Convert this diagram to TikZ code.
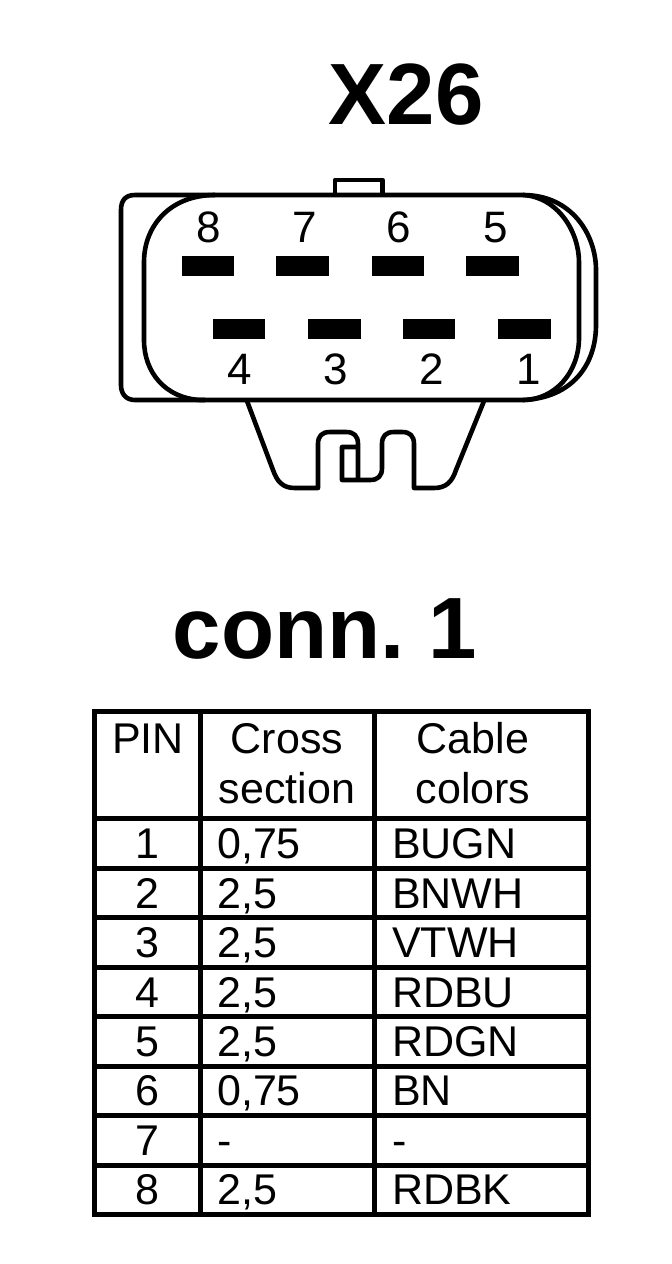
\documentclass[tikz,border=0pt]{standalone}
\usepackage{fontspec}
\setmainfont{Liberation Sans}
\tikzset{
  x=1pt,y=-1pt,
  body/.style={line width=4.6pt,line join=round,draw=black},
  grid/.style={line width=5pt,draw=black,line cap=rect},
  pinbar/.style={fill=black,draw=none},
  pinno/.style={inner sep=0pt,anchor=base,font=\fontsize{44}{46}\selectfont},
  big/.style={inner sep=0pt,anchor=base,font=\fontsize{87}{90}\selectfont\bfseries},
  cell/.style={inner sep=0pt,anchor=base,font=\fontsize{43}{45}\selectfont},
  lcell/.style={cell,anchor=base west}
}
\begin{document}
\begin{tikzpicture}
\useasboundingbox (0,0) rectangle (672,1264);
\node[big] (title) at (406,124) {X26};
% tab
\draw[body] (335,193) -- (335,180) -- (382.5,180) -- (382.5,193);
% outer shell
\draw[body] (215,195) -- (135,195) .. controls (125,195) and (121,201) .. (121,210) -- (121,385) .. controls (121,394) and (126,400) .. (135,400) -- (205,400);
\draw[body] (523,195) .. controls (572,195) and (596,235) .. (596,270) -- (596,325) .. controls (596,365) and (572,398) .. (523,400);
% inner face
\draw[body] (215,195) -- (523,195) .. controls (558,197) and (579,232) .. (579,262) -- (579,338) .. controls (579,372) and (555,400) .. (523,400) -- (200,400) .. controls (165,398) and (144,372) .. (144,340) -- (144,262) .. controls (144,226) and (170,195) .. (215,195);
% pins
\foreach \xa/\xb in {182/234,276/329,372/424,466/519}
  \fill[pinbar] (\xa,256) rectangle (\xb,276);
\foreach \xa/\xb in {213/265,308/361,403/455,498/551}
  \fill[pinbar] (\xa,319) rectangle (\xb,339);
\node[pinno] (p8) at (209,242) {8};
\node[pinno] (p7) at (305,242) {7};
\node[pinno] (p6) at (399,242) {6};
\node[pinno] (p5) at (496,242) {5};
\node[pinno] (p4) at (240,384) {4};
\node[pinno] (p3) at (336,384) {3};
\node[pinno] (p2) at (432,384) {2};
\node[pinno] (p1) at (529,384) {1};
% clip
\draw[body] (247,401) -- (273,470) .. controls (277,481) and (282,488) .. (295,488) -- (318,488) -- (318,444) .. controls (318,436) and (322,432) .. (330,432) -- (346,432) .. controls (354,432) and (358,436) .. (358,444) -- (358,480);
\draw[body] (358,447) -- (342,447) -- (342,480) -- (370,480) .. controls (378,480) and (382,476) .. (382,468) -- (382,444) .. controls (382,436) and (386,432) .. (394,432) -- (402,432) .. controls (410,432) and (414,436) .. (414,444) -- (414,488) -- (434,488) .. controls (446,488) and (452,482) .. (456,470) -- (484,401);
\node[big] (conn) at (325,658) {conn.\kern-8pt{} 1};
% table
\draw[grid] (94.5,711) rectangle (588.5,1214);
\draw[grid] (200,711) -- (200,1214);
\draw[grid] (374,711) -- (374,1214);
\foreach \y in {818,868,917,967,1016,1066,1115,1165}
  \draw[grid] (94.5,\y) -- (588.5,\y);
\node[cell] (hpin) at (148,753) {PIN};
\node[cell] (hcross) at (287,753) {Cross};
\node[cell] (hsection) at (287,803) {section};
\node[cell] (hcable) at (473,753) {Cable};
\node[cell] (hcolors) at (473,803) {colors};
\foreach \i/\y/\c/\k in {1/858/{0,75}/BUGN,2/908/{2,5}/BNWH,3/957/{2,5}/VTWH,4/1007/{2,5}/RDBU,5/1056/{2,5}/RDGN,6/1105/{0,75}/BN,7/1155/-/-,8/1204/{2,5}/RDBK}{
  \node[cell] (n\i) at (147,\y) {\i};
  \node[lcell] (c\i) at (217,\y) {\c};
  \node[lcell] (k\i) at (392,\y) {\k};
}
\end{tikzpicture}
\end{document}
